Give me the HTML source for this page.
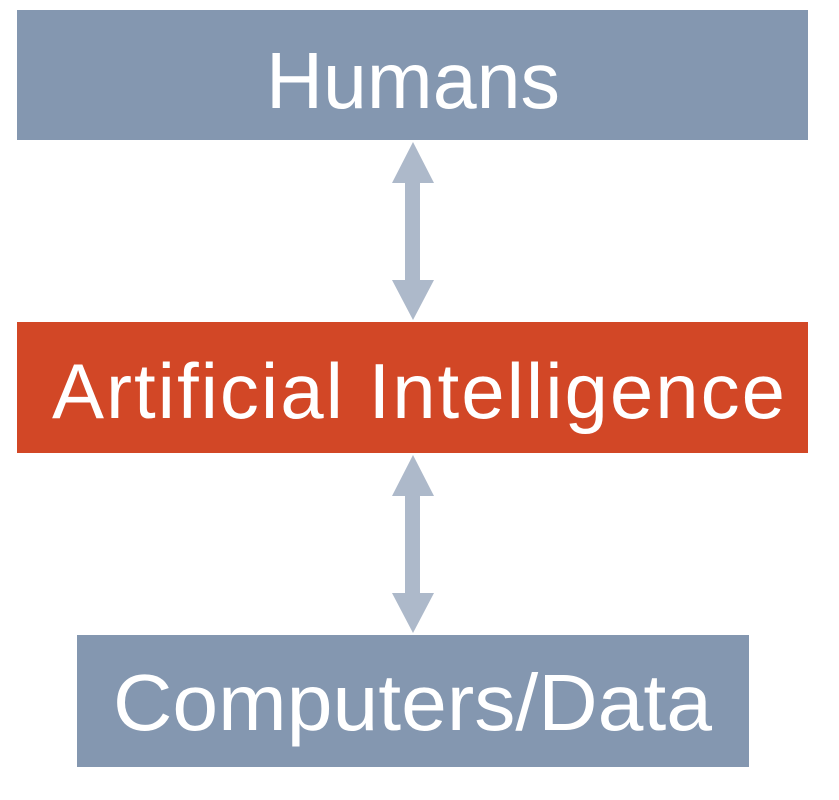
<!DOCTYPE html>
<html><head><style>html,body{margin:0;padding:0;background:#fff}svg{display:block}</style></head>
<body>
<svg width="839" height="800" viewBox="0 0 839 800" xmlns="http://www.w3.org/2000/svg" font-family="Liberation Sans, sans-serif">
<rect x="17" y="10" width="791" height="130" fill="#8497B0"/>
<rect x="17" y="322" width="791" height="131" fill="#D24726"/>
<rect x="77" y="635" width="672" height="132" fill="#8497B0"/>
<g fill="#ADB9CA">
<polygon points="413,142 434,183 420,183 420,280 434,280 413,320 392,280 405,280 405,183 392,183"/>
<polygon points="413,455 434,496 420,496 420,593 434,593 413,633 392,593 405,593 405,496 392,496"/>
</g>
<g fill="#fff" font-size="80">
<text x="266" y="108" textLength="294" lengthAdjust="spacingAndGlyphs">Humans</text>
<text x="52" y="418" font-size="78" textLength="733" lengthAdjust="spacing">Artificial Intelligence</text>
<text x="113" y="730" textLength="599" lengthAdjust="spacingAndGlyphs">Computers/Data</text>
</g>
</svg>
</body></html>
